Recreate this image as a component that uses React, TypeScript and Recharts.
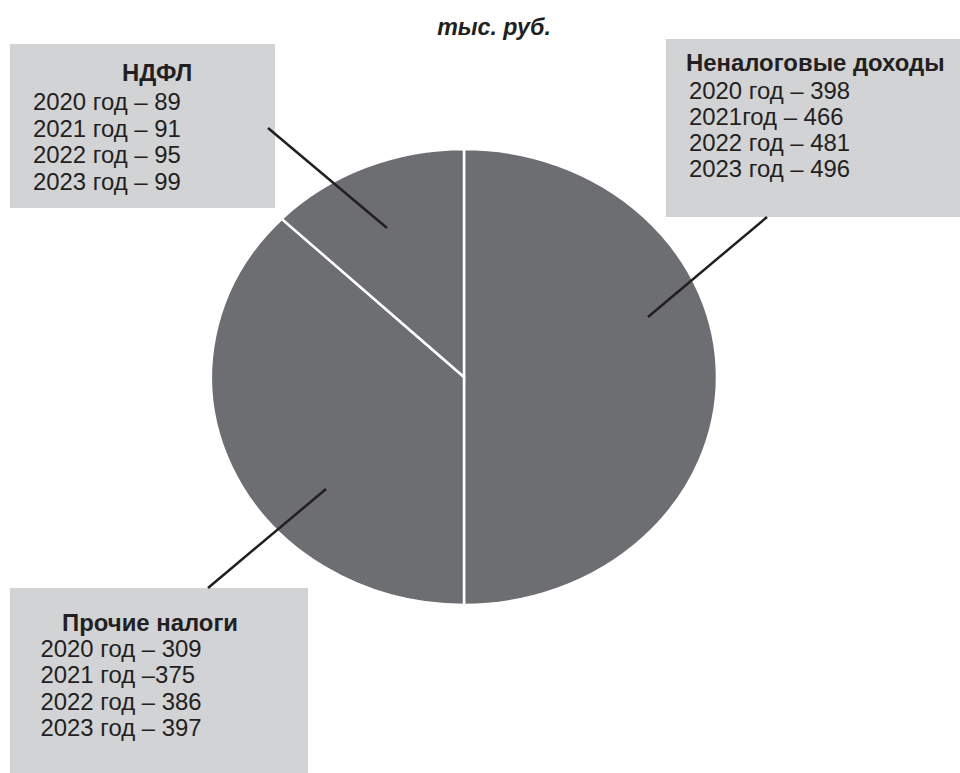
import React from 'react';
import { PieChart, Pie, Cell } from 'recharts';

// Slice shares as drawn in the picture (% of the circle)
const categories = ['Неналоговые доходы', 'Прочие налоги', 'НДФЛ'];
const sliceShares = [50, 37.2, 12.8];

// Label texts (as printed in the picture)
const ndflLines = ['2020 год – 89', '2021 год – 91', '2022 год – 95', '2023 год – 99'];
const nonTaxLines = ['2020 год – 398', '2021год – 466', '2022 год – 481', '2023 год – 496'];
const otherLines = ['2020 год – 309', '2021 год –375', '2022 год – 386', '2023 год – 397'];
const unitTitle = 'тыс. руб.';

const data = categories.map((name, i) => ({ name, value: sliceShares[i] }));

const W = 960;
const H = 773;
const PIE_FILL = '#6d6e71';
const BOX_FILL = '#d1d3d4';
const TEXT = '#231f20';
const FONT = '"Liberation Sans", Arial, sans-serif';
const FS = 23.9;
const RX_SCALE = 253 / 228;

const EllipseSector = (props: any) => {
  const { cx, cy, outerRadius, startAngle, endAngle, fill } = props;
  const ry = outerRadius;
  const rx = outerRadius * RX_SCALE;
  const rad = Math.PI / 180;
  const x1 = cx + rx * Math.cos(startAngle * rad);
  const y1 = cy - ry * Math.sin(startAngle * rad);
  const x2 = cx + rx * Math.cos(endAngle * rad);
  const y2 = cy - ry * Math.sin(endAngle * rad);
  const large = Math.abs(startAngle - endAngle) > 180 ? 1 : 0;
  const sweep = startAngle > endAngle ? 1 : 0;
  const d = `M ${cx} ${cy} L ${x1} ${y1} A ${rx} ${ry} 0 ${large} ${sweep} ${x2} ${y2} Z`;
  return <path d={d} fill={fill} stroke="#ffffff" strokeWidth={2.5} strokeLinejoin="miter" />;
};

type BoxProps = {
  x: number; y: number; w: number; h: number;
  title: string; titleX: number; titleY: number;
  lines: string[]; lineX: number; lineY: number; step: number;
};

const LabelBox = ({ x, y, w, h, title, titleX, titleY, lines, lineX, lineY, step }: BoxProps) => (
  <g>
    <rect x={x} y={y} width={w} height={h} fill={BOX_FILL} />
    <text x={titleX} y={titleY} fontFamily={FONT} fontSize={FS} fontWeight="bold" fill={TEXT}>
      {title}
    </text>
    {lines.map((t, i) => (
      <text key={i} x={lineX} y={lineY + i * step} fontFamily={FONT} fontSize={FS} fill={TEXT}>
        {t}
      </text>
    ))}
  </g>
);

export default function App() {
  return (
    <div style={{ position: 'absolute', left: 0, top: 0, width: W, height: H, background: '#fff' }}>
      <PieChart width={W} height={H} margin={{ top: 0, right: 0, bottom: 0, left: 0 }}>
        <Pie
          data={data}
          dataKey="value"
          nameKey="name"
          cx={464}
          cy={377}
          outerRadius={228}
          startAngle={90}
          endAngle={-270}
          isAnimationActive={false}
          shape={EllipseSector}
          stroke="#ffffff"
        >
          {data.map((d) => (
            <Cell key={d.name} fill={PIE_FILL} />
          ))}
        </Pie>
        <text
          x={494}
          y={35}
          textAnchor="middle"
          fontFamily={FONT}
          fontSize={23.2}
          fontWeight="bold"
          fontStyle="italic"
          fill={TEXT}
        >
          {unitTitle}
        </text>
        <LabelBox
          x={10} y={44} w={265} h={164}
          title="НДФЛ" titleX={122} titleY={81}
          lines={ndflLines} lineX={33} lineY={110} step={26.5}
        />
        <LabelBox
          x={666} y={39} w={294} h={178}
          title="Неналоговые доходы" titleX={686} titleY={71}
          lines={nonTaxLines} lineX={689} lineY={98.5} step={26.2}
        />
        <LabelBox
          x={10} y={588} w={298} h={185}
          title="Прочие налоги" titleX={62} titleY={631}
          lines={otherLines} lineX={40.5} lineY={657} step={26.4}
        />
      </PieChart>
      <svg
        width={W}
        height={H}
        style={{ position: 'absolute', left: 0, top: 0, pointerEvents: 'none' }}
      >
        <line x1={268} y1={128} x2={387} y2={228} stroke={TEXT} strokeWidth={2.5} />
        <line x1={767} y1={217} x2={648} y2={317} stroke={TEXT} strokeWidth={2.5} />
        <line x1={208} y1={588} x2={326} y2={489} stroke={TEXT} strokeWidth={2.5} />
      </svg>
    </div>
  );
}
